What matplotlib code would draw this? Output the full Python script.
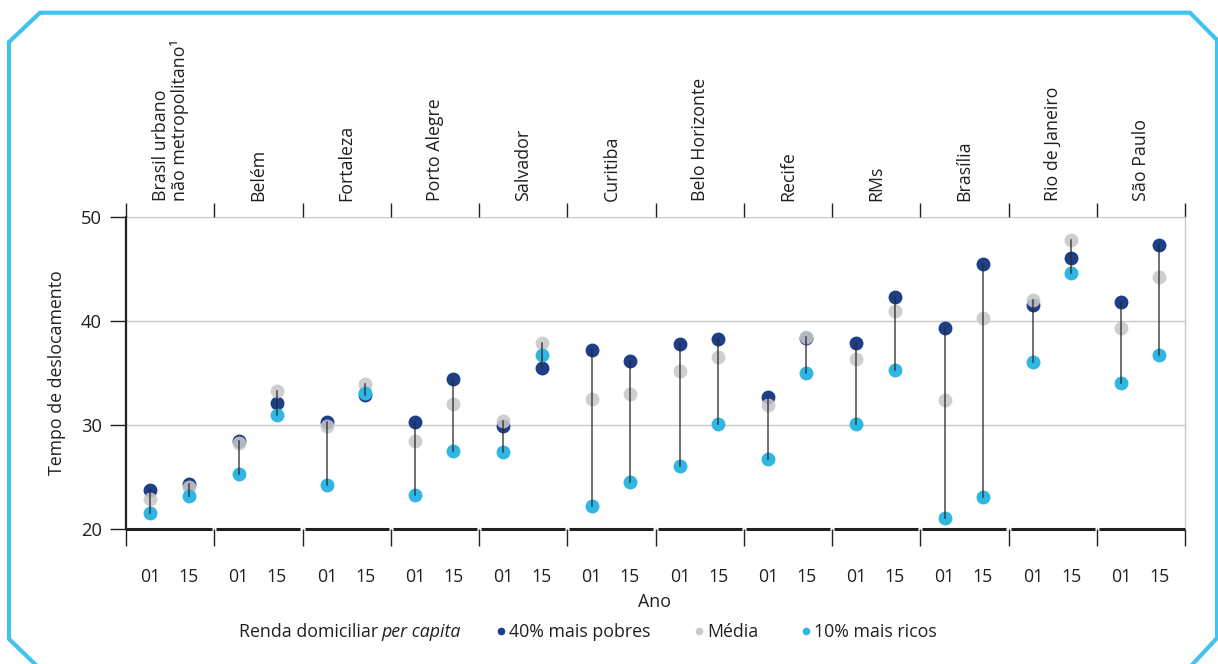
import matplotlib.pyplot as plt
from matplotlib.lines import Line2D

plt.rcParams['font.family'] = ['Open Sans', 'DejaVu Sans']
plt.rcParams['text.color'] = '#231f20'

cidades = ["Brasil urbano\nnão metropolitano¹", "Belém", "Fortaleza", "Porto Alegre",
           "Salvador", "Curitiba", "Belo Horizonte", "Recife", "RMs", "Brasília",
           "Rio de Janeiro", "São Paulo"]
anos = ["01", "15"]

# tempo de deslocamento, pares 2001 / 2015 para cada cidade
pobres = [23.75, 24.3, 28.5, 32.1, 30.3, 32.9, 30.3, 34.4, 29.9, 35.5, 37.2, 36.2,
          37.8, 38.3, 32.7, 38.35, 37.9, 42.3, 39.3, 45.5, 41.5, 46.05, 41.8, 47.3]
media = [22.9, 24.0, 28.25, 33.3, 29.9, 33.9, 28.5, 32.05, 30.4, 37.9, 32.5, 33.0,
         35.2, 36.5, 31.9, 38.5, 36.3, 41.0, 32.45, 40.25, 42.0, 47.8, 39.3, 44.25]
ricos = [21.5, 23.2, 25.3, 31.0, 24.2, 33.1, 23.3, 27.5, 27.4, 36.75, 22.25, 24.55,
         26.1, 30.1, 26.7, 35.0, 30.1, 35.3, 21.1, 23.1, 36.1, 44.6, 34.05, 36.7]

c_pobres = '#1d3f87'
c_media = '#c8c8ca'
c_ricos = '#2fb6e2'
fs = 12.8

W, H = 1218, 664
fig = plt.figure(figsize=(W / 100, H / 100), dpi=100)
ax = fig.add_axes([126 / W, 135 / H, 1059 / W, 312 / H])

n = len(cidades)
xs = [i + off for i in range(n) for off in (0.275, 0.71)]

# linha ligando o menor ao maior valor de cada ano
for x, a, b, c in zip(xs, pobres, media, ricos):
    ax.plot([x, x], [min(a, b, c), max(a, b, c)], color='#2a2a2a', lw=1.1,
            alpha=0.85, zorder=6)

ax.scatter(xs, pobres, s=100, color=c_pobres, linewidths=0, zorder=3, label='40% mais pobres')
ax.scatter(xs, media, s=100, color=c_media, alpha=0.88, linewidths=0, zorder=4, label='Média')
ax.scatter(xs, ricos, s=100, color=c_ricos, linewidths=0, zorder=5, label='10% mais ricos')

ax.set_xlim(0, n)
ax.set_ylim(20, 50)
ax.set_yticks([20, 30, 40, 50])
ax.yaxis.grid(True, color='#c8c8c8', lw=1)
ax.set_axisbelow(True)
ax.tick_params(axis='y', length=11.5, width=1, pad=6, labelsize=13.2, colors='#231f20')

ax.set_xticks(xs)
ax.set_xticklabels(anos * n)
ax.tick_params(axis='x', length=0, pad=28, labelsize=fs, colors='#231f20')

for s in ['top', 'bottom']:
    ax.spines[s].set_visible(False)
ax.spines['right'].set_color('#c8c8c8')
ax.spines['right'].set_linewidth(1)
ax.spines['left'].set_color('#231f20')
ax.spines['left'].set_linewidth(1.6)

tr = ax.get_xaxis_transform()
# separadores entre cidades, em cima e embaixo
ax.vlines(range(n + 1), 0, -0.055, transform=tr, color='#231f20', lw=1, clip_on=False)
ax.vlines(range(n + 1), 1, 1.045, transform=tr, color='#231f20', lw=1, clip_on=False)
for i in range(n):
    x0 = i + (0 if i == 0 else 0.025)
    x1 = i + 1 - (0 if i == n - 1 else 0.025)
    ax.plot([x0, x1], [0, 0], transform=tr, color='#231f20', lw=2.2,
            solid_capstyle='butt', clip_on=False, zorder=7)

for i, nome in enumerate(cidades):
    ax.text(i + 0.5, 1.052, nome, transform=tr, rotation=90, ha='center', va='bottom',
            multialignment='left', fontsize=fs, linespacing=1.0)

fig.text(57 / W, 1 - 373 / H, 'Tempo de deslocamento', rotation=90,
         ha='center', va='center', fontsize=fs)
fig.text(655 / W, 1 - 602 / H, 'Ano', ha='center', va='center', fontsize=fs)

# legenda
fig.text(378 / W, 1 - 632 / H, 'Renda domiciliar', ha='right', va='center', fontsize=fs)
fig.text(461 / W, 1 - 632 / H, 'per capita', ha='right', va='center', fontsize=fs,
         style='italic')
handles = [Line2D([], [], ls='', marker='o', ms=5.5, mec='none', color=c)
           for c in (c_pobres, c_media, c_ricos)]
fig.legend(handles, ['40% mais pobres', 'Média', '10% mais ricos'], ncol=3,
           loc='center left', bbox_to_anchor=(497 / W, 1 - 632 / H), frameon=False,
           fontsize=fs, handlelength=0.5, handletextpad=0.2, columnspacing=2.45,
           borderpad=0, borderaxespad=0)

# moldura
px = [37, 9, 9, 40, 1190, 1217, 1217, 1191]
py = [666, 639, 42, 12.7, 12.7, 40, 638, 666]
fig.add_artist(Line2D([p / W for p in px], [1 - p / H for p in py], color='#40c4ef',
                      lw=3, transform=fig.transFigure, solid_joinstyle='miter'))

fig.savefig('out.png', dpi=100)
